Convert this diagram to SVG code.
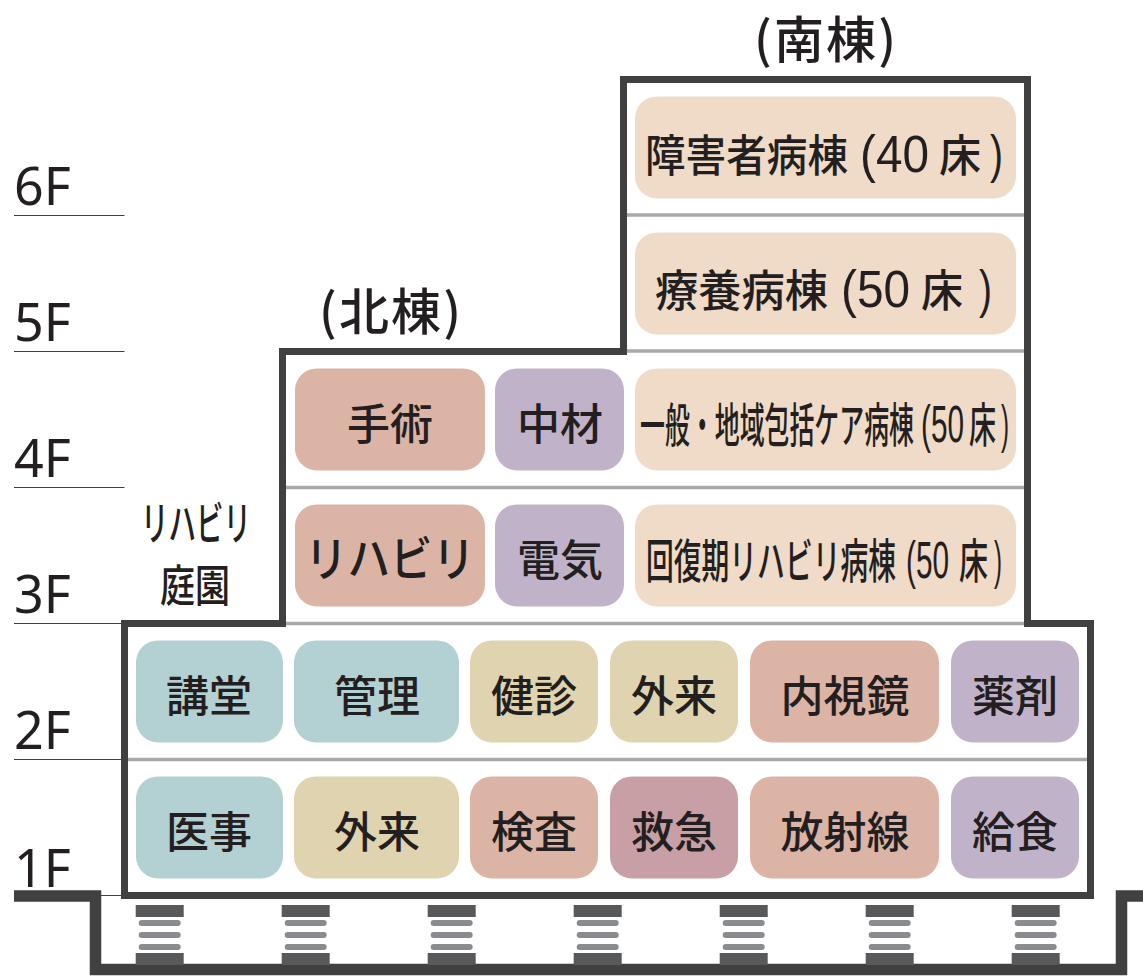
<svg xmlns="http://www.w3.org/2000/svg" width="1143" height="976" viewBox="0 0 1143 976">
<style>
text{font-family:"Noto Sans CJK JP","Noto Sans",sans-serif;fill:#231f20;font-size:43px;font-weight:500;text-anchor:middle}
.f{font-family:"Noto Sans","Noto Sans CJK JP",sans-serif;font-size:52px;font-weight:400;text-anchor:start}
.s{text-anchor:start;font-size:44px}
.n{font-size:47px}
.a{font-family:"Liberation Sans","Noto Sans CJK JP",sans-serif;font-size:52px}
.t{fill:#f0dac8}.r{fill:#dbb4a6}.p{fill:#c0b3c9}.g{fill:#b3d0d2}.y{fill:#e0d3af}.k{fill:#c99fa6}
.w{fill:none;stroke:#404040;stroke-width:7;stroke-linejoin:miter}
.e{fill:none;stroke:#404040;stroke-width:11.5;stroke-linejoin:miter}
.h{stroke:#a7a9ac;stroke-width:3.5;fill:none}
.l{stroke:#404040;stroke-width:1.2;fill:none}
.iso{fill:#58595b}.bar{fill:#8a8b8e}
</style>
<defs>
<g id="isolator">
<rect class="iso" x="0" y="0" width="48" height="12"/>
<rect class="bar" x="3" y="15" width="42" height="6" rx="3"/>
<rect class="bar" x="3" y="27" width="42" height="6" rx="3"/>
<rect class="bar" x="3" y="39" width="42" height="6" rx="3"/>
<rect class="iso" x="0" y="48" width="48" height="12"/>
</g>
</defs>
<g id="connectors">
<path class="h" d="M627 215H1027M286 351H1027M286 487.500H1027M286 623.500H1027M128 759.500H1090"/>
<path class="l" d="M14 215.500H124.500M14 351.500H124.500M14 487.500H124.500M14 623.500H124.500M14 759.500H124.500M14 895.500H124.500"/>
<path class="w" d="M124.500 895.500V623.500H282.500V351.500H623.500V79.500H1027.500V623.500H1090.500V895.500Z"/>
<path class="e" d="M14 896H95.500V969.500H1121.500V896H1143"/>
</g>
<g id="isolators">
<use href="#isolator" x="135.700" y="905"/>
<use href="#isolator" x="281.700" y="905"/>
<use href="#isolator" x="427.700" y="905"/>
<use href="#isolator" x="573.700" y="905"/>
<use href="#isolator" x="719.700" y="905"/>
<use href="#isolator" x="865.700" y="905"/>
<use href="#isolator" x="1011.700" y="905"/>
</g>
<g id="floors">
<text class="f" x="14" y="205">6F</text>
<text class="f" x="14" y="341">5F</text>
<text class="f" x="14" y="477">4F</text>
<text class="f" x="14" y="613">3F</text>
<text class="f" x="14" y="749">2F</text>
<text class="f" x="14" y="887">1F</text>
</g>
<g id="titles">
<text x="825" y="58" style="font-size:50px" textLength="142" lengthAdjust="spacing">(南棟)</text>
<text x="390" y="330" style="font-size:50px" textLength="142" lengthAdjust="spacing">(北棟)</text>
</g>
<g id="garden">
<text x="196" y="540" style="font-size:46px" textLength="110" lengthAdjust="spacingAndGlyphs">リハビリ</text>
<text x="195" y="602" style="font-size:44px" textLength="70" lengthAdjust="spacingAndGlyphs">庭園</text>
</g>
<g id="n-shogai"><rect class="t" x="635" y="96.400" width="381" height="102" rx="22"/><text class="s" y="172"><tspan x="645" textLength="203" lengthAdjust="spacingAndGlyphs">障害者病棟</tspan><tspan class="a" x="860" textLength="69" lengthAdjust="spacingAndGlyphs">(40</tspan><tspan x="939" textLength="42" lengthAdjust="spacingAndGlyphs">床</tspan><tspan class="a" x="990" textLength="13" lengthAdjust="spacingAndGlyphs">)</tspan></text></g>
<g id="n-ryoyo"><rect class="t" x="635" y="232.400" width="381" height="102" rx="22"/><text class="s" y="307"><tspan x="655" textLength="173" lengthAdjust="spacingAndGlyphs">療養病棟</tspan><tspan class="a" x="841" textLength="69" lengthAdjust="spacingAndGlyphs">(50</tspan><tspan x="921" textLength="42" lengthAdjust="spacingAndGlyphs">床</tspan><tspan class="a" x="979" textLength="13" lengthAdjust="spacingAndGlyphs">)</tspan></text></g>
<g id="n-ippan"><rect class="t" x="635" y="368.400" width="381" height="102" rx="22"/><text class="s n" y="442"><tspan x="640" textLength="274" lengthAdjust="spacingAndGlyphs">一般・地域包括ケア病棟</tspan><tspan class="a" x="921" textLength="43" lengthAdjust="spacingAndGlyphs">(50</tspan><tspan x="969" textLength="27" lengthAdjust="spacingAndGlyphs">床</tspan><tspan class="a" x="1001" textLength="8" lengthAdjust="spacingAndGlyphs">)</tspan></text></g>
<g id="n-kaifuku"><rect class="t" x="635" y="504.400" width="381" height="102" rx="22"/><text class="s n" y="578"><tspan x="646" textLength="250" lengthAdjust="spacingAndGlyphs">回復期リハビリ病棟</tspan><tspan class="a" x="906" textLength="43" lengthAdjust="spacingAndGlyphs">(50</tspan><tspan x="959" textLength="29" lengthAdjust="spacingAndGlyphs">床</tspan><tspan class="a" x="994" textLength="8" lengthAdjust="spacingAndGlyphs">)</tspan></text></g>
<g id="n-shujutsu"><rect class="r" x="295" y="368.400" width="190" height="102" rx="22"/><text x="390" y="440">手術</text></g>
<g id="n-chuzai"><rect class="p" x="495" y="368.400" width="129" height="102" rx="22"/><text x="560" y="440">中材</text></g>
<g id="n-reha"><rect class="r" x="295" y="504.400" width="190" height="102" rx="22"/><text x="390" y="576" style="font-size:48px" textLength="170" lengthAdjust="spacingAndGlyphs">リハビリ</text></g>
<g id="n-denki"><rect class="p" x="495" y="504.400" width="129" height="102" rx="22"/><text x="560" y="576">電気</text></g>
<g id="n-kodo"><rect class="g" x="136" y="640.400" width="147" height="102" rx="22"/><text x="209" y="712">講堂</text></g>
<g id="n-kanri"><rect class="g" x="294" y="640.400" width="165" height="102" rx="22"/><text x="377" y="712">管理</text></g>
<g id="n-kenshin"><rect class="y" x="470" y="640.400" width="128" height="102" rx="22"/><text x="534" y="712">健診</text></g>
<g id="n-gairai2"><rect class="y" x="610" y="640.400" width="128" height="102" rx="22"/><text x="674" y="712">外来</text></g>
<g id="n-naishi"><rect class="r" x="750" y="640.400" width="189" height="102" rx="22"/><text x="845" y="712">内視鏡</text></g>
<g id="n-yakuzai"><rect class="p" x="951" y="640.400" width="128" height="102" rx="22"/><text x="1015" y="712">薬剤</text></g>
<g id="n-iji"><rect class="g" x="136" y="776.400" width="147" height="102" rx="22"/><text x="209" y="848">医事</text></g>
<g id="n-gairai1"><rect class="y" x="294" y="776.400" width="165" height="102" rx="22"/><text x="377" y="848">外来</text></g>
<g id="n-kensa"><rect class="r" x="470" y="776.400" width="128" height="102" rx="22"/><text x="534" y="848">検査</text></g>
<g id="n-kyukyu"><rect class="k" x="610" y="776.400" width="128" height="102" rx="22"/><text x="674" y="848">救急</text></g>
<g id="n-hoshasen"><rect class="r" x="750" y="776.400" width="189" height="102" rx="22"/><text x="845" y="848">放射線</text></g>
<g id="n-kyushoku"><rect class="p" x="951" y="776.400" width="128" height="102" rx="22"/><text x="1015" y="848">給食</text></g>
</svg>
